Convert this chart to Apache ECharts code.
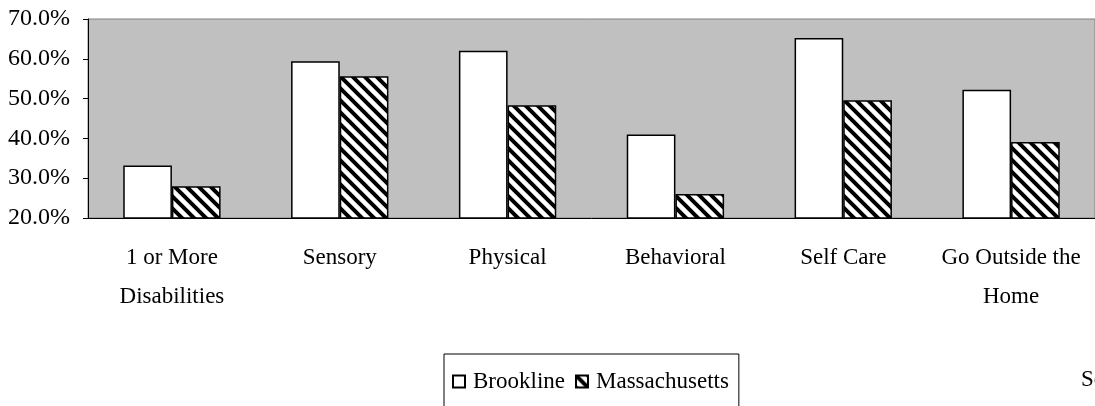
<!DOCTYPE html>
<html>
<head>
<meta charset="utf-8">
<script src="https://cdn.jsdelivr.net/npm/echarts@6/dist/echarts.min.js"></script>
<style>
  html, body { margin: 0; padding: 0; background: #ffffff; }
  #chart { width: 1095px; height: 406px; }
</style>
</head>
<body>
<div id="chart"></div>
<script>
// categories and values (percent)
const categories = ['1 or More\nDisabilities', 'Sensory', 'Physical', 'Behavioral', 'Self Care', 'Go Outside the\nHome']
const brookline = [33.2, 59.4, 62.0, 41.0, 65.2, 52.2]
const massachusetts = [28.0, 55.6, 48.3, 26.0, 49.6, 39.1]
const yTicks = [20, 30, 40, 50, 60, 70]

// diagonal hatch tile for the Massachusetts bars
function hatchPattern () {
  const size = 12
  const c = document.createElement('canvas')
  c.width = size
  c.height = size
  const ctx = c.getContext('2d')
  ctx.fillStyle = '#ffffff'
  ctx.fillRect(0, 0, size, size)
  ctx.strokeStyle = '#000000'
  ctx.lineWidth = 4
  ctx.beginPath()
  ctx.moveTo(-size, -size)
  ctx.lineTo(size * 2, size * 2)
  ctx.moveTo(-size, 0)
  ctx.lineTo(size, size * 2)
  ctx.moveTo(0, -size)
  ctx.lineTo(size * 2, size)
  ctx.stroke()
  return c
}

const font = 'Liberation Serif'
const hatch = hatchPattern()
const chart = echarts.init(document.getElementById('chart'))
chart.setOption({
  animation: false,
  textStyle: { fontFamily: font, color: '#000' },
  title: {
    text: 'Source',
    left: 1081,
    top: 368,
    padding: 0,
    textStyle: { fontFamily: font, fontSize: 23, fontWeight: 'normal', color: '#000' }
  },
  grid: {
    left: 88,
    top: 19,
    right: -7,
    bottom: 188,
    show: true,
    backgroundColor: '#c0c0c0',
    borderColor: '#808080',
    borderWidth: 1
  },
  legend: {
    left: 444,
    top: 354,
    icon: 'rect',
    itemWidth: 12,
    itemHeight: 12,
    itemGap: 10,
    padding: [16, 10, 40, 8],
    borderColor: '#000',
    borderWidth: 1,
    textStyle: { fontFamily: font, fontSize: 23, color: '#000', padding: [0, 0, 0, 3] },
    data: ['Brookline', 'Massachusetts']
  },
  xAxis: {
    type: 'category',
    data: categories,
    axisLine: { lineStyle: { color: '#000', width: 1 } },
    axisTick: { length: 7, lineStyle: { color: '#000' } },
    axisLabel: {
      margin: 20,
      fontFamily: font,
      fontSize: 23,
      lineHeight: 39,
      color: '#000',
      interval: 0
    }
  },
  yAxis: {
    type: 'value',
    min: yTicks[0],
    max: yTicks[yTicks.length - 1],
    interval: 10,
    splitLine: { show: false },
    axisLine: { show: true, lineStyle: { color: '#000', width: 1 } },
    axisTick: { show: true, length: 5, lineStyle: { color: '#000' } },
    axisLabel: {
      margin: 18,
      fontFamily: font,
      fontSize: 24,
      color: '#000',
      formatter: v => v.toFixed(1) + '%'
    }
  },
  series: [
    {
      name: 'Brookline',
      type: 'bar',
      data: brookline,
      barGap: '0%',
      barCategoryGap: '42%',
      itemStyle: { color: '#ffffff', borderColor: '#000', borderWidth: 1.5 }
    },
    {
      name: 'Massachusetts',
      type: 'bar',
      data: massachusetts,
      itemStyle: {
        color: { image: hatch, repeat: 'repeat' },
        borderColor: '#000',
        borderWidth: 1.5
      }
    }
  ]
})
</script>
</body>
</html>
